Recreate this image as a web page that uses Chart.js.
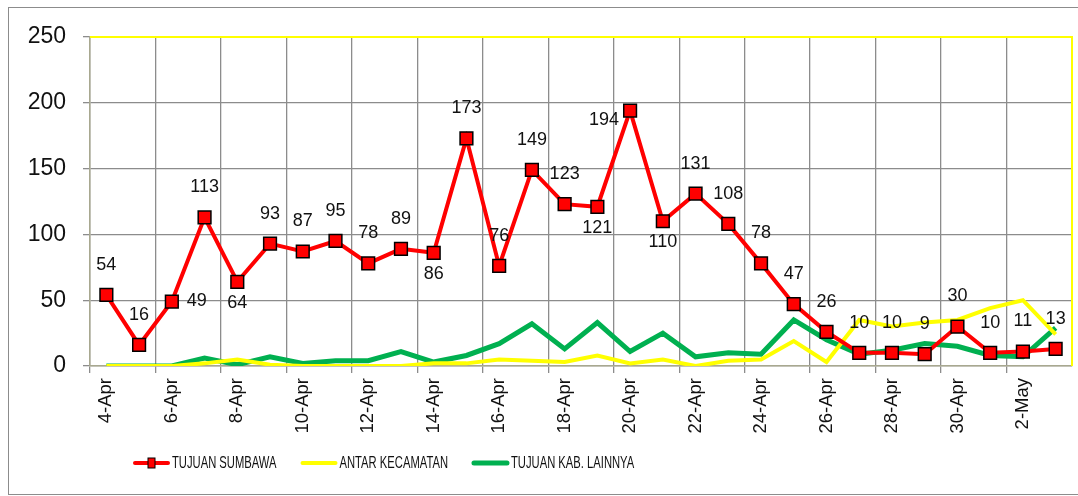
<!DOCTYPE html>
<html lang="en">
<head>
    <meta charset="UTF-8">
    <title>Tujuan Perjalanan</title>
    <script src="https://cdn.jsdelivr.net/npm/chart.js@4.4.0/dist/chart.umd.js"></script>
    <style>
        body { margin: 0; background: #fff; }
        #wrap { position: relative; width: 1078px; height: 496px; }
    </style>
</head>
<body>
    <div id="wrap"><canvas id="tripChart" width="1078" height="496"></canvas></div>

    <script>
        // Dates (4 Apr - 3 May)
        const days = ['4-Apr', '5-Apr', '6-Apr', '7-Apr', '8-Apr', '9-Apr', '10-Apr', '11-Apr', '12-Apr', '13-Apr',
            '14-Apr', '15-Apr', '16-Apr', '17-Apr', '18-Apr', '19-Apr', '20-Apr', '21-Apr', '22-Apr', '23-Apr',
            '24-Apr', '25-Apr', '26-Apr', '27-Apr', '28-Apr', '29-Apr', '30-Apr', '1-May', '2-May', '3-May'];

        const tujuanSumbawa = [54, 16, 49, 113, 64, 93, 87, 95, 78, 89, 86, 173, 76, 149, 123, 121, 194, 110, 131, 108,
            78, 47, 26, 10, 10, 9, 30, 10, 11, 13];
        const antarKecamatan = [0, 0, 0, 2, 5, 1, 0, 0, 0, 0, 2, 2, 5, 4, 3, 8, 2, 5, 0, 4,
            5, 19, 3, 35, 30, 33, 35, 44, 50, 24];
        const tujuanKabLain = [0, 0, 0, 6, 1, 7, 2, 4, 4, 11, 3, 8, 17, 32, 13, 33, 11, 25, 7, 10,
            9, 35, 20, 9, 12, 17, 15, 8, 7, 29];

        const yTicks = [0, 50, 100, 150, 200, 250];

        // where each red value label sits relative to its marker
        const labelSide = ['top', 'top', 'right', 'top', 'bottom', 'top', 'top', 'top', 'top', 'top',
            'bottom', 'top', 'top', 'top', 'top', 'bottom', 'left', 'bottom', 'top', 'top',
            'top', 'top', 'top', 'top', 'top', 'top', 'top', 'top', 'top', 'top'];

        const GRID = '#8c8c8c';

        // value labels on the red series
        const valueLabels = {
            id: 'valueLabels',
            afterDatasetsDraw(chart) {
                const ctx = chart.ctx;
                const meta = chart.getDatasetMeta(0);
                ctx.save();
                ctx.font = '18px "Liberation Sans", Arial, sans-serif';
                ctx.fillStyle = '#111';
                ctx.textAlign = 'center';
                ctx.textBaseline = 'middle';
                meta.data.forEach((pt, i) => {
                    let x = pt.x, y = pt.y;
                    const side = labelSide[i];
                    if (side === 'top') y -= 30;
                    else if (side === 'bottom') y += 21;
                    else if (side === 'right') x += 25;
                    else if (side === 'left') { x -= 26; y += 9; }
                    ctx.fillText(String(tujuanSumbawa[i]), x, y);
                });
                ctx.restore();
            }
        };

        // frame: outer chart border, yellow top/right edge of plot
        const frame = {
            id: 'frame',
            beforeDraw(chart) {
                const ctx = chart.ctx;
                ctx.save();
                ctx.strokeStyle = '#8c8c8c';
                ctx.lineWidth = 1;
                ctx.strokeRect(8.5, 7.5, 1090, 487);
                ctx.restore();
            },
            beforeDatasetsDraw(chart) {
                const { ctx, chartArea: a } = chart;
                ctx.save();
                ctx.strokeStyle = '#ffff00';
                ctx.lineWidth = 2;
                ctx.beginPath();
                ctx.moveTo(a.left, a.top);
                ctx.lineTo(a.right, a.top);
                ctx.lineTo(a.right, a.bottom);
                ctx.stroke();
                ctx.restore();
            }
        };

        // legend drawn along the bottom (text squeezed like the original narrow font)
        const bottomLegend = {
            id: 'bottomLegend',
            afterDraw(chart) {
                const ctx = chart.ctx;
                const y = 463;
                const squeeze = 0.68;
                let x = 135;
                ctx.save();
                ctx.font = '16.5px "Liberation Sans", Arial, sans-serif';
                ctx.textBaseline = 'middle';
                chart.data.datasets.forEach((ds, i) => {
                    ctx.strokeStyle = ds.borderColor;
                    ctx.lineWidth = ds.borderWidth;
                    ctx.lineCap = 'round';
                    ctx.beginPath();
                    ctx.moveTo(x, y);
                    ctx.lineTo(x + 33, y);
                    ctx.stroke();
                    if (i === 0) {
                        ctx.fillStyle = ds.pointBackgroundColor;
                        ctx.strokeStyle = '#000';
                        ctx.lineWidth = 1;
                        ctx.fillRect(x + 13, y - 5, 7, 10);
                        ctx.strokeRect(x + 13, y - 5, 7, 10);
                    }
                    x += 37;
                    ctx.save();
                    ctx.translate(x, y);
                    ctx.scale(squeeze, 1);
                    ctx.fillStyle = '#111';
                    ctx.fillText(ds.label, 0, 0);
                    ctx.restore();
                    x += ctx.measureText(ds.label).width * squeeze + 26;
                });
                ctx.restore();
            }
        };

        new Chart(document.getElementById('tripChart'), {
            type: 'line',
            data: {
                labels: days,
                datasets: [{
                    label: 'TUJUAN SUMBAWA',
                    data: tujuanSumbawa,
                    borderColor: '#ff0000',
                    borderWidth: 4,
                    pointStyle: 'rect',
                    pointRadius: 9,
                    pointBackgroundColor: '#ff0000',
                    pointBorderColor: '#000',
                    pointBorderWidth: 1.5,
                    tension: 0
                }, {
                    label: 'ANTAR KECAMATAN',
                    data: antarKecamatan,
                    borderColor: '#ffff00',
                    borderWidth: 4,
                    pointRadius: 0,
                    tension: 0
                }, {
                    label: 'TUJUAN KAB. LAINNYA',
                    data: tujuanKabLain,
                    borderColor: '#00b050',
                    borderWidth: 5,
                    pointRadius: 0,
                    tension: 0
                }]
            },
            options: {
                responsive: false,
                animation: false,
                layout: { autoPadding: false, padding: { top: 37, right: 6, left: 0, bottom: 0 } },
                scales: {
                    x: {
                        offset: true,
                        afterFit: s => {
                            s.height = 130;
                            s.paddingLeft = 0;
                            s.paddingRight = 0;
                        },
                        grid: {
                            offset: true,
                            color: c => (c.index % 2 === 0 ? GRID : 'rgba(0,0,0,0)'),
                            lineWidth: 1.3,
                            tickLength: 7
                        },
                        border: { color: '#a8a890', width: 1.5 },
                        ticks: {
                            autoSkip: false,
                            minRotation: 90,
                            maxRotation: 90,
                            padding: 5,
                            color: '#111',
                            font: { family: '"Liberation Sans", Arial, sans-serif', size: 18.5 },
                            callback: (v, i) => (i % 2 === 0 ? days[i] : '')
                        }
                    },
                    y: {
                        min: 0,
                        max: 250,
                        afterFit: s => { s.width = 90; },
                        afterBuildTicks: s => { s.ticks = yTicks.map(v => ({ value: v })); },
                        grid: { color: GRID, lineWidth: 1.3, tickLength: 7 },
                        border: { color: '#a8a890', width: 1.5 },
                        ticks: {
                            padding: 17,
                            color: '#111',
                            font: { family: '"Liberation Sans", Arial, sans-serif', size: 23 }
                        }
                    }
                },
                plugins: {
                    legend: { display: false },
                    tooltip: { enabled: false }
                }
            },
            plugins: [frame, valueLabels, bottomLegend]
        });
    </script>
</body>
</html>
